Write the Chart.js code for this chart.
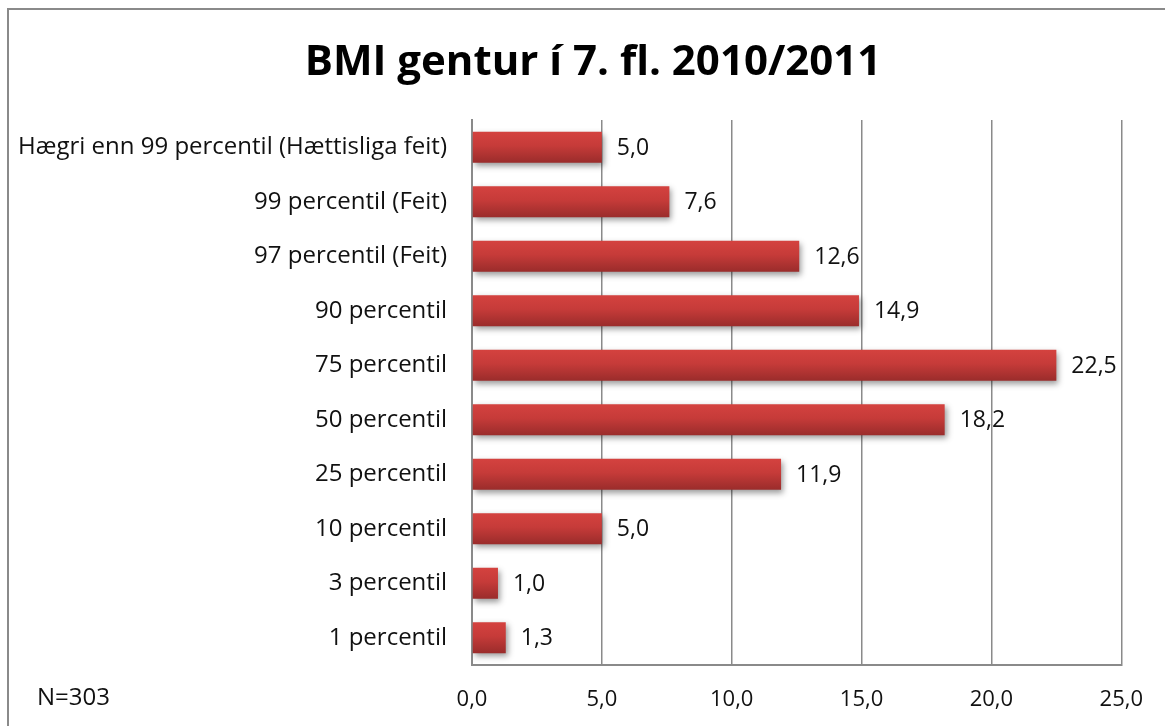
<!DOCTYPE html>
<html>
<head>
<meta charset="utf-8">
<script src="https://cdn.jsdelivr.net/npm/chart.js@4/dist/chart.umd.min.js"></script>
<style>
  html, body { margin: 0; padding: 0; background: #fff; }
  #wrap { position: relative; width: 1165px; height: 726px; }
  #frame { position: absolute; left: 7px; top: 8px; right: -2px; bottom: -2px; border-left: 2px solid #8a8a8a; border-top: 2px solid #8a8a8a; pointer-events: none; }
</style>
</head>
<body>
<div id="wrap">
  <canvas id="c" width="1165" height="726"></canvas>
  <div id="frame"></div>
</div>
<script>
const titleText = 'BMI gentur í 7. fl. 2010/2011';
const noteText = 'N=303';
const categories = [
  'Hægri enn 99 percentil (Hættisliga feit)',
  '99 percentil (Feit)',
  '97 percentil (Feit)',
  '90 percentil',
  '75 percentil',
  '50 percentil',
  '25 percentil',
  '10 percentil',
  '3 percentil',
  '1 percentil'
];
const values = [5.0, 7.6, 12.6, 14.9, 22.5, 18.2, 11.9, 5.0, 1.0, 1.3];
const xTickLabels = ['0,0', '5,0', '10,0', '15,0', '20,0', '25,0'];

const FONT = '"Open Sans", Lato, sans-serif';
const fmt = v => v.toFixed(1).replace('.', ',');

const barStyle = {
  id: 'barStyle',
  beforeDatasetDraw(chart, args) {
    const ctx = chart.ctx;
    const meta = args.meta;
    meta.data.forEach(el => {
      const top = el.y - el.height / 2, bot = el.y + el.height / 2;
      const g = ctx.createLinearGradient(0, top, 0, bot);
      g.addColorStop(0, '#d4423f');
      g.addColorStop(0.45, '#c63b39');
      g.addColorStop(1, '#9a2c2b');
      el.options = Object.assign({}, el.options, { backgroundColor: g });
    });
    ctx.save();
    ctx.shadowColor = 'rgba(0,0,0,0.4)';
    ctx.shadowBlur = 6;
    ctx.shadowOffsetX = 2;
    ctx.shadowOffsetY = 3;
  },
  afterDatasetDraw(chart) {
    chart.ctx.restore();
  }
};

const textLayer = {
  id: 'textLayer',
  afterDraw(chart) {
    const ctx = chart.ctx;
    const meta = chart.getDatasetMeta(0);
    ctx.save();
    ctx.fillStyle = '#111';
    ctx.textAlign = 'left';
    ctx.textBaseline = 'middle';
    ctx.font = '23px ' + FONT;
    meta.data.forEach((el, i) => {
      ctx.fillText(fmt(values[i]), el.x + 15, el.y + 1);
    });
    ctx.font = '24px ' + FONT;
    ctx.fillText(noteText, 37, 698);
    ctx.fillStyle = '#000';
    ctx.textAlign = 'center';
    ctx.font = 'bold 42px ' + FONT;
    ctx.fillText(titleText, 593, 63);
    ctx.restore();
  }
};

new Chart(document.getElementById('c'), {
  type: 'bar',
  data: {
    labels: categories,
    datasets: [{
      data: values,
      backgroundColor: '#c63b39',
      borderWidth: 0,
      categoryPercentage: 1.0,
      barPercentage: 0.57
    }]
  },
  plugins: [barStyle, textLayer],
  options: {
    indexAxis: 'y',
    responsive: false,
    animation: false,
    layout: { padding: { left: 0, right: 41, top: 120, bottom: 0 } },
    plugins: {
      legend: { display: false },
      tooltip: { enabled: false },
      title: { display: false }
    },
    scales: {
      x: {
        min: 0,
        max: 25,
        ticks: {
          stepSize: 5,
          color: '#111',
          font: { family: FONT, size: 22 },
          padding: 22,
          callback: (v, i) => xTickLabels[i]
        },
        grid: { color: '#8a8a8a', lineWidth: 1.5, drawTicks: false },
        border: { color: '#8a8a8a', width: 2 },
        afterFit(scale) { scale.height = 726 - 665; }
      },
      y: {
        ticks: {
          color: '#111',
          font: { family: FONT, size: 24 },
          padding: 25
        },
        grid: { display: false, drawTicks: false },
        border: { color: '#8a8a8a', width: 2 },
        afterFit(scale) { scale.width = 472; }
      }
    }
  }
});
</script>
</body>
</html>
